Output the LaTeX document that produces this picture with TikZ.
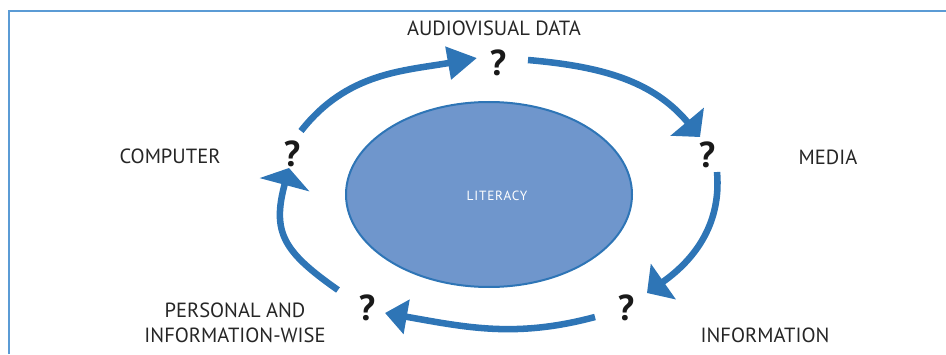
\documentclass[tikz,border=0pt]{standalone}
\usepackage{fontspec}
\setmainfont{PT Sans}
\newfontfamily\litfont[LetterSpace=6]{PT Sans}
\usepackage{tikz}
\usetikzlibrary{arrows.meta,shapes.geometric}
\usepackage{xcolor}
\definecolor{ringblue}{RGB}{46,117,182}
\definecolor{eggblue}{RGB}{111,150,204}
\definecolor{frameblue}{RGB}{91,155,213}

\begin{document}
\begin{tikzpicture}[x = 0.75pt, y = 0.75pt,
  quest/.style = {font=\fontsize{27}{27}\selectfont\bfseries, text=black!90, inner sep=0pt},
  lbl/.style = {font=\fontsize{15.4}{18.75}\selectfont, text=black!85, align=center, inner sep=0pt},
  cyc/.style = {ringblue, line width=4.9pt, -{Triangle[length=15pt, width=32pt]}}]
\useasboundingbox (0,0) rectangle (946,354);
\draw[frameblue, line width=1.5pt] (9,0) -- (9,343) -- (946,343);
% centre
\node[ellipse, draw=ringblue, line width=1.5pt, fill=eggblue, inner sep=0pt,
  minimum width=214.5pt, minimum height=138.75pt] (lit) at (489,159.5) {};
\node[font=\litfont\fontsize{10}{10}\selectfont, text=white] (littxt) at (497,158) {LITERACY};
% question marks
\node[quest] (qtop) at (498,291.5) {?};
\node[quest] (qright) at (707,199) {?};
\node[quest] (qbr) at (626,46.5) {?};
\node[quest] (qbl) at (367,46) {?};
\node[quest] (qleft) at (292,200) {?};
% labels
\node[lbl] (avd) at (494,326) {AUDIOVISUAL DATA};
\node[lbl] (media) at (828,197) {MEDIA};
\node[lbl] (info) at (765,19) {INFORMATION};
\node[lbl] (pers) at (235,31.5) {PERSONAL AND\\INFORMATION-WISE};
\node[lbl] (comp) at (170,198) {COMPUTER};
% arrow ends
\coordinate (a1s) at (301,223); \coordinate (a1e) at (477,296);
\coordinate (a2s) at (528,294); \coordinate (a2e) at (700,217);
\coordinate (a3s) at (717,182); \coordinate (a3e) at (647,61);
\coordinate (a4s) at (595,37);  \coordinate (a4e) at (385,41);
\coordinate (a5s) at (338,64);  \coordinate (a5e) at (289,186);
% cycle
\draw[cyc, -{Triangle[length=22pt, width=24pt]}] (a1s) to[out=52, in=190] (a1e);
\draw[cyc] (a2s) to[out=-5, in=130] (a2e);
\draw[cyc] (a3s) to[out=-85, in=35] (a3e);
\draw[cyc, -{Triangle[length=16.5pt, width=25.5pt]}] (a4s) to[out=195, in=-10] (a4e);
\draw[cyc, -{Triangle[length=13pt, width=38pt]}] (a5s) to[out=145, in=-105, looseness=1.3] (a5e);
\end{tikzpicture}
\end{document}
